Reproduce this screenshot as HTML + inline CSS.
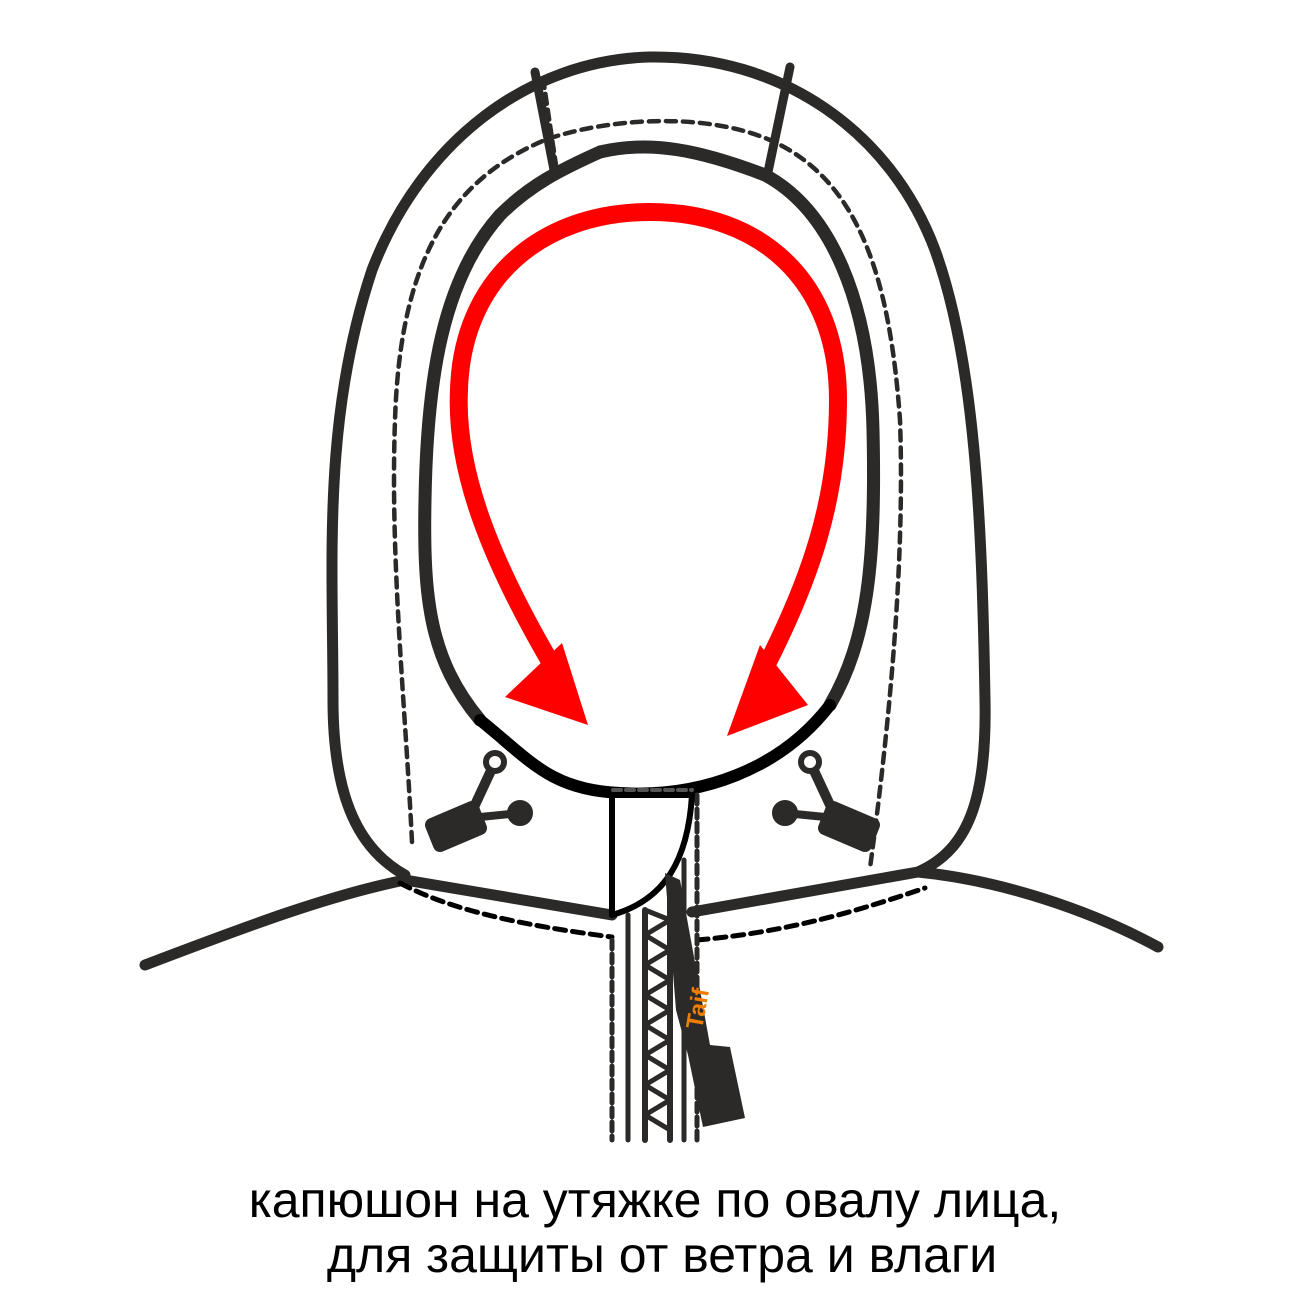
<!DOCTYPE html>
<html><head><meta charset="utf-8"><style>
html,body{margin:0;padding:0;background:#fff;width:1300px;height:1300px;overflow:hidden}
</style></head><body>
<svg width="1300" height="1300" viewBox="0 0 1300 1300" xmlns="http://www.w3.org/2000/svg">
<g fill="none" stroke="#2b2a29" stroke-linecap="round" stroke-linejoin="round">
<path d="M405,875 C360,850 333,800 333,700 C333,560 322,420 372,270 C422,140 530,60 650,57 C780,55 890,130 935,250 C975,360 982,520 985,700 C987,800 968,850 918,872" stroke-width="11"/>
<path d="M412,842 C405,700 390,560 395,420 C400,260 450,180 545,140 C600,120 700,110 770,140 C860,180 890,280 900,420 C905,560 890,720 870,868" stroke-width="4.5" stroke-dasharray="10,7"/>
<path d="M535,72 L555,175 M790,67 L768,172" stroke-width="9"/>
<path d="M543,78 L557,172" stroke-width="4.5" stroke-dasharray="10,6"/>
<path d="M480,720 C430,660 423,600 425,500 C427,380 442,280 500,215 C530,185 560,170 600,152 C650,140 700,150 765,175 C830,210 870,300 873,430 C876,560 868,640 830,705" stroke-width="13"/>
<path d="M480,720 C530,760 550,790 620,793 C700,798 780,770 830,705" stroke="#000" stroke-width="12"/>
<path d="M145,965 C250,925 330,895 405,880 L612,915" stroke-width="11"/>
<path d="M692,912 L918,872 C1000,880 1090,910 1158,947" stroke-width="11"/>
<path d="M400,883 C450,910 520,925 612,937" stroke="#000" stroke-width="5" stroke-dasharray="11,7"/>
<path d="M697,940 C790,932 860,910 925,888" stroke="#000" stroke-width="5" stroke-dasharray="11,7"/>
<path d="M612,940 L612,1140 M697,795 L697,1140" stroke-width="5" stroke-dasharray="9,5"/>
<path d="M628,915 L628,1140 M684,860 L684,1140" stroke-width="5"/>
<path d="M645,910 L645,1140 M670,880 L670,1140" stroke-width="6"/>
<path d="M645,910 L670,920 L645,935 L670,950 L645,965 L670,980 L645,995 L670,1010 L645,1025 L670,1040 L645,1055 L670,1070 L645,1085 L670,1100 L645,1115 L670,1130" stroke-width="5"/>
<path d="M612,795 L692,795 C688,860 665,900 612,915 Z" fill="#fff" stroke="#000" stroke-width="6"/>
<path d="M613,790 L692,790" stroke="#555" stroke-width="4" stroke-dasharray="8,5"/>
</g>
<path d="M665,873 L680,880 L710,1045 L730,1047 L745,1118 L703,1127 L688,1055 L676,1010 L672,960 Z" fill="#2b2a29"/>
<text x="0" y="0" transform="translate(702,1030) rotate(-80)" font-family="Liberation Sans,sans-serif" font-weight="bold" font-size="24" fill="#f07d00">Taif</text>
<g fill="#2b2a29" stroke="#2b2a29">
<path d="M495,762 L468,820" stroke-width="10"/>
<circle cx="495" cy="762" r="9" fill="#fff" stroke-width="6"/>
<circle cx="520" cy="813" r="12" stroke-width="2"/>
<path d="M432,825 L472,808 L480,828 L440,845 Z" stroke-width="14" stroke-linejoin="round"/>
<path d="M470,818 L520,813" stroke-width="8"/>
<path d="M810,762 L837,820" stroke-width="10"/>
<circle cx="810" cy="762" r="9" fill="#fff" stroke-width="6"/>
<circle cx="785" cy="813" r="12" stroke-width="2"/>
<path d="M873,825 L833,808 L825,828 L865,845 Z" stroke-width="14" stroke-linejoin="round"/>
<path d="M835,818 L785,813" stroke-width="8"/>
</g>
<path d="M555,670 C490,560 455,470 459,390 C462,280 540,212 650,212 C760,212 838,280 838,400 C838,500 810,580 765,668" fill="none" stroke="#f00" stroke-width="18"/>
<path d="M505,697 L588,725 L562,643 Z" fill="#f00"/>
<path d="M727,736 L808,705 L760,645 Z" fill="#f00"/>
<g font-family="Liberation Sans,sans-serif" font-size="50" fill="#000" text-anchor="middle">
<text x="655" y="1217">капюшон на утяжке по овалу лица,</text>
<text x="662" y="1272">для защиты от ветра и влаги</text>
</g>
</svg>
</body></html>
